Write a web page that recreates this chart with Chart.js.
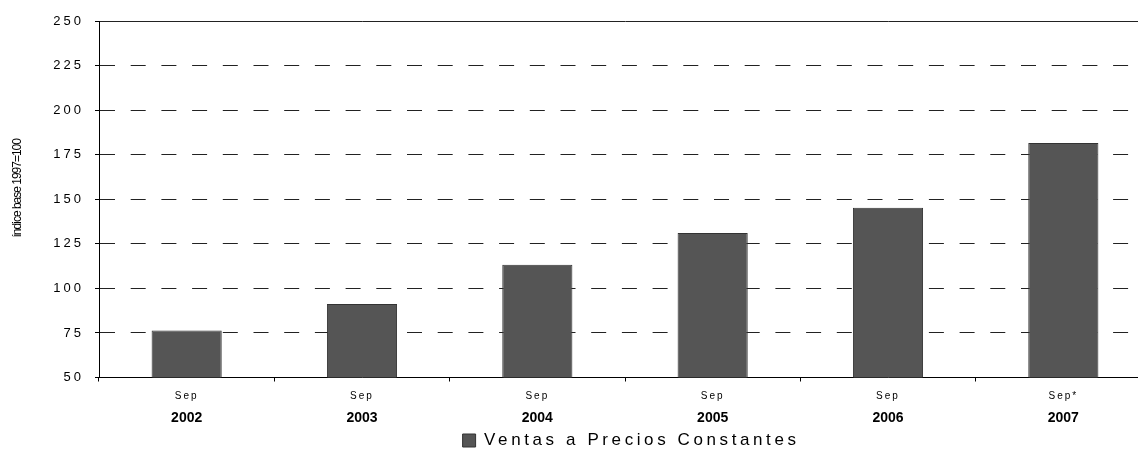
<!DOCTYPE html>
<html lang="es">
<head>
    <meta charset="UTF-8">
    <title>Ventas a Precios Constantes</title>
    <style>
        html, body { margin: 0; padding: 0; background: #fff; overflow: hidden; }
        .chart-box { width: 1152px; height: 455px; }
    </style>
</head>
<body>
    <div class="chart-box">
        <canvas id="ventasChart"></canvas>
    </div>

    <script src="https://cdn.jsdelivr.net/npm/chart.js"></script>
    <script>
    const years = ['2002', '2003', '2004', '2005', '2006', '2007'];
    const months = ['Sep', 'Sep', 'Sep', 'Sep', 'Sep', 'Sep*'];
    const ventas = [76.4, 91.2, 113.3, 131, 145.3, 181.6];
    const yTicks = { min: 50, max: 250, step: 25 };

    // canvas has no letter-spacing option, so wrap the draw calls we need
    function withSpacing(obj, method, spacing, dy) {
        if (!obj || obj['_sp_' + method]) return;
        const orig = obj[method].bind(obj);
        obj[method] = function (...args) {
            const ctx = this.ctx;
            ctx.save();
            ctx.letterSpacing = spacing;
            if (dy) ctx.translate(0, dy);
            orig(...args);
            ctx.restore();
        };
        obj['_sp_' + method] = true;
    }

    const spacingPlugin = {
        id: 'spacing',
        afterLayout(chart) {
            withSpacing(chart.scales.y, 'drawLabels', '3px');
            withSpacing(chart.scales.y, 'drawTitle', '-1px', -11);
            withSpacing(chart.scales.x, 'drawLabels', '2px');
            withSpacing(chart.legend, 'draw', '3.6px');
            // legend sits a bit right of centre and lower in the original
            if (chart.legend && !chart.legend._shifted) {
                chart.legend.left += 7;
                chart.legend.right += 7;
                chart.legend.top += 4;
                chart.legend.bottom += 4;
                chart.legend._shifted = true;
            }
        }
    };

    document.addEventListener('DOMContentLoaded', function () {
        const ctx = document.getElementById('ventasChart').getContext('2d');

        new Chart(ctx, {
            type: 'bar',
            data: {
                labels: months,
                datasets: [{
                    label: 'Ventas a Precios Constantes',
                    data: ventas,
                    backgroundColor: '#555555',
                    borderColor: '#333333',
                    borderWidth: 1,
                    barPercentage: 0.4,
                    categoryPercentage: 1
                }]
            },
            options: {
                responsive: true,
                maintainAspectRatio: false,
                animation: false,
                layout: { padding: { top: 21, right: 1, left: 0, bottom: 0 } },
                plugins: {
                    tooltip: { enabled: false },
                    legend: {
                        position: 'bottom',
                        labels: {
                            boxWidth: 13,
                            boxHeight: 13,
                            padding: 3.5,
                            color: '#000',
                            font: { family: 'Arial, "Liberation Sans", sans-serif', size: 17 }
                        }
                    }
                },
                scales: {
                    y: {
                        min: yTicks.min,
                        max: yTicks.max,
                        afterFit: s => { s.width = 99; },
                        ticks: {
                            stepSize: yTicks.step,
                            color: '#000',
                            padding: 11,
                            font: { family: 'Arial, "Liberation Sans", sans-serif', size: 13 }
                        },
                        grid: {
                            color: '#222',
                            tickColor: '#000',
                            tickLength: 4,
                            lineWidth: 1
                        },
                        border: {
                            display: true,
                            color: '#000',
                            width: 1,
                            dash: c => (c.tick && c.tick.value === yTicks.max) ? [] : [15, 15.7]
                        },
                        title: {
                            display: true,
                            text: 'índice base 1997=100',
                            color: '#000',
                            padding: { top: 10, bottom: 0 },
                            font: { family: 'Arial, "Liberation Sans", sans-serif', size: 12 }
                        }
                    },
                    x: {
                        offset: true,
                        afterFit: s => { s.height = 28; },
                        ticks: {
                            color: '#000',
                            padding: 9,
                            maxRotation: 0,
                            font: { family: 'Arial, "Liberation Sans", sans-serif', size: 10 }
                        },
                        grid: {
                            offset: true,
                            drawOnChartArea: false,
                            tickLength: 4,
                            tickColor: '#000'
                        },
                        border: { display: true, color: '#000', width: 1 }
                    },
                    x2: {
                        type: 'category',
                        position: 'bottom',
                        labels: years,
                        offset: true,
                        afterFit: s => { s.height = 19; },
                        ticks: {
                            color: '#000',
                            padding: 4,
                            maxRotation: 0,
                            font: { family: 'Arial, "Liberation Sans", sans-serif', size: 14, weight: 'bold' }
                        },
                        grid: { display: false, drawTicks: false },
                        border: { display: false }
                    }
                }
            },
            plugins: [spacingPlugin]
        });
    });
    </script>
</body>
</html>
